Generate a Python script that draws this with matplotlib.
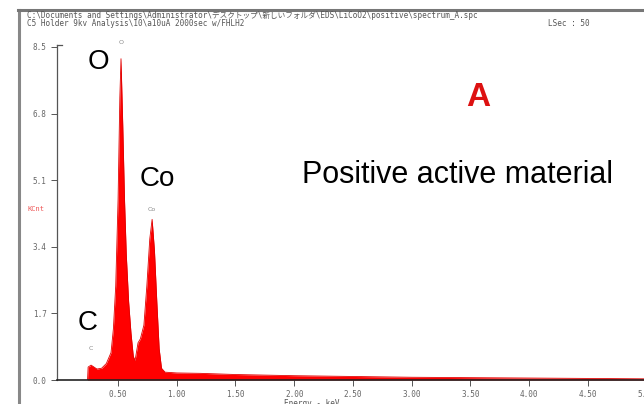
import matplotlib
matplotlib.use('Agg')
import matplotlib.pyplot as plt
from matplotlib.lines import Line2D

# EDS spectrum (keV, kCnt)
energy = [0.24, 0.245, 0.27, 0.29, 0.32, 0.36, 0.40, 0.44, 0.46, 0.48, 0.50, 0.515,
          0.525, 0.54, 0.555, 0.57, 0.59, 0.61, 0.63, 0.645, 0.67, 0.69, 0.72,
          0.745, 0.77, 0.79, 0.81, 0.83, 0.85, 0.87, 0.90, 1.00, 1.20, 1.50, 2.00,
          2.50, 3.00, 3.50, 4.00, 4.50, 5.00]
counts = [0.0, 0.33, 0.38, 0.34, 0.28, 0.30, 0.42, 0.70, 1.30, 2.40, 4.60, 7.20,
          8.20, 6.50, 4.60, 3.20, 2.00, 1.20, 0.60, 0.50, 0.95, 1.05, 1.40,
          2.40, 3.60, 4.10, 3.30, 2.00, 0.80, 0.30, 0.20, 0.18, 0.17, 0.14, 0.11,
          0.09, 0.07, 0.06, 0.05, 0.04, 0.03]

xticks = [0.5, 1.0, 1.5, 2.0, 2.5, 3.0, 3.5, 4.0, 4.5, 5.0]
yticks = [0.0, 1.7, 3.4, 5.1, 6.8, 8.5]

# element markers: (name, energy, height of small tag)
elements = [('C', 0.27, 0.75), ('O', 0.525, 8.55), ('Co', 0.79, 4.3)]

W, H = 644, 404
fig = plt.figure(figsize=(W / 100, H / 100), dpi=100)
fig.patch.set_facecolor('white')

def fx(px):
    return px / W

def fy(py):
    return 1 - py / H

ax = fig.add_axes([fx(57), fy(380), fx(650) - fx(57), fy(45) - fy(380)])
ax.fill_between(energy, counts, 0, color='#ff0000', lw=0)
ax.plot(energy, counts, color='#e00000', lw=0.6)
ax.set_xlim(-0.02, 5.03)
ax.set_ylim(0, 8.55)
ax.set_facecolor('none')
for s in ['top', 'right']:
    ax.spines[s].set_visible(False)
ax.spines['left'].set_color('#555555')
ax.spines['left'].set_linewidth(0.9)
ax.spines['bottom'].set_color('#222222')
ax.spines['bottom'].set_linewidth(1.2)

ax.set_xticks(xticks)
ax.set_xticklabels(['%.2f' % t for t in xticks])
ax.set_yticks(yticks)
ax.set_yticklabels(['%.1f' % t for t in yticks])
ax.tick_params(axis='both', direction='out', length=4, width=0.7, color='#555555',
               labelsize=5.5, labelcolor='#666666')
ax.tick_params(axis='x', pad=3)
for lab in ax.get_xticklabels() + ax.get_yticklabels():
    lab.set_family('DejaVu Sans Mono')

# small peak tags
for name, e, h in elements:
    ax.text(e, h, name, fontsize=4.5, color='#888888', ha='center', va='bottom')

# window frame
fig.add_artist(Line2D([fx(19), fx(19)], [fy(10), 0], color='#888888', lw=2.2))
fig.add_artist(Line2D([fx(18), 1], [fy(10), fy(10)], color='#777777', lw=2.2))
fig.add_artist(Line2D([fx(57), fx(62)], [fy(45), fy(45)], color='#555555', lw=0.9))

# header
mono = ['DejaVu Sans Mono', 'Noto Sans CJK JP']
fig.text(fx(27), fy(15),
         'C:\\Documents and Settings\\Administrator\\デスクトップ\\新しいフォルダ\\EDS\\LiCoO2\\positive\\spectrum_A.spc',
         family=mono, fontsize=5.5, color='#555555', va='center')
fig.text(fx(27), fy(24), 'C5 Holder 9kv Analysis\\10\\a10uA 2000sec w/FHLH2',
         family=mono, fontsize=5.5, color='#555555', va='center')
fig.text(fx(548), fy(24), 'LSec : 50', family=mono, fontsize=5.5,
         color='#555555', va='center')

fig.text(fx(36), fy(209), 'KCnt', family=mono, fontsize=5, color='#ee5555',
         ha='center', va='center')
fig.text(fx(312), fy(403), 'Energy - keV', family=mono, fontsize=5.5,
         color='#555555', ha='center', va='center')

# annotations
big = dict(family='Liberation Sans', fontsize=20, color='black', ha='center', va='center')
fig.text(fx(98), fy(62), 'O', **big)
fig.text(fx(157), fy(179), 'Co', **big)
fig.text(fx(88), fy(323), 'C', **big)
fig.text(fx(458), fy(175), 'Positive active material', family='Liberation Sans',
         fontsize=22, color='black', ha='center', va='center')
fig.text(fx(478), fy(98), 'A', family='Liberation Sans', fontsize=24,
         fontweight='bold', color='#dd1111', ha='center', va='center')

fig.savefig('out.png', dpi=100)
